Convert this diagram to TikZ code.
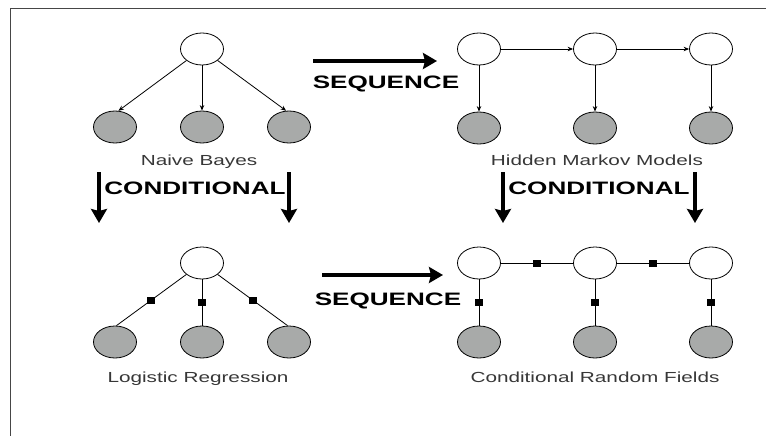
\documentclass[tikz,border=0pt]{standalone}
\usepackage{fontspec}
\setmainfont{Liberation Sans}
\usetikzlibrary{shapes.geometric,arrows.meta}
\definecolor{obsfill}{RGB}{168,170,169}
\definecolor{labelgray}{RGB}{55,55,55}
\definecolor{framegray}{RGB}{70,70,70}
\begin{document}
\begin{tikzpicture}[x=1pt,y=-1pt,
  hidden/.style={ellipse,draw,line width=0.8pt,fill=white,minimum width=43pt,minimum height=32pt,inner sep=0pt},
  observed/.style={hidden,fill=obsfill},
  edge/.style={line width=0.8pt,-{Stealth[length=5.5pt,width=4.5pt]}},
  link/.style={line width=0.8pt},
  factor/.style={rectangle,fill=black,minimum width=8pt,minimum height=7pt,inner sep=0pt},
  caption/.style={text=labelgray,font=\fontsize{14.6}{16}\selectfont,xscale=1.42,inner sep=0pt},
  bigword/.style={font=\fontsize{18}{20}\selectfont\bfseries,xscale=1.45,inner sep=0pt},
  bigarrow/.style={line width=3.5pt,-{Stealth[length=14pt,width=16pt,inset=2pt]}}
]
\useasboundingbox (0,0) rectangle (766,436);

% frame
\draw[framegray,line width=1pt] (766,9) -- (10,9) -- (10,436);

% ---- Naive Bayes ----
\node[hidden]   (nbr) at (202,49) {};
\node[observed] (nb1) at (115,127) {};
\node[observed] (nb2) at (202,127) {};
\node[observed] (nb3) at (289,127) {};
\draw[edge] (nbr) -- (nb1.78);
\draw[edge] (nbr) -- (nb2);
\draw[edge] (nbr) -- (nb3.100);
\node[caption] (nbl) at (199,162) {Naive Bayes};

% ---- Hidden Markov Models ----
\node[hidden]   (h1) at (479,49) {};
\node[hidden]   (h2) at (595,49) {};
\node[hidden]   (h3) at (711,49) {};
\node[observed] (o1) at (479,128) {};
\node[observed] (o2) at (595,128) {};
\node[observed] (o3) at (711,128) {};
\draw[edge] (h1) -- (h2);
\draw[edge] (h2) -- (h3);
\draw[edge] (h1) -- (o1);
\draw[edge] (h2) -- (o2);
\draw[edge] (h3) -- (o3);
\node[caption] (hml) at (597,160) {Hidden Markov Models};

% ---- Logistic Regression ----
\node[hidden]   (lr) at (202,263) {};
\node[observed] (l1) at (115,342) {};
\node[observed] (l2) at (202,342) {};
\node[observed] (l3) at (289,342) {};
\draw[link] (lr) -- node[factor] (lf1) {} (l1.85);
\draw[link] (lr) -- node[factor] (lf2) {} (l2);
\draw[link] (lr) -- node[factor] (lf3) {} (l3.95);
\node[caption] (lrl) at (198,379) {Logistic Regression};

% ---- Conditional Random Fields ----
\node[hidden]   (c1) at (479,263) {};
\node[hidden]   (c2) at (595,263) {};
\node[hidden]   (c3) at (711,263) {};
\node[observed] (d1) at (479,342) {};
\node[observed] (d2) at (595,342) {};
\node[observed] (d3) at (711,342) {};
\draw[link] (c1) -- node[factor] (cf12) {} (c2);
\draw[link] (c2) -- node[factor] (cf23) {} (c3);
\draw[link] (c1) -- node[factor] (cf1) {} (d1);
\draw[link] (c2) -- node[factor] (cf2) {} (d2);
\draw[link] (c3) -- node[factor] (cf3) {} (d3);
\node[caption] (crfl) at (595,377) {Conditional Random Fields};

% ---- transitions between the four models ----
\coordinate (sqa1) at (313,61);  \coordinate (sqb1) at (437,61);
\coordinate (sqa2) at (322,275); \coordinate (sqb2) at (443,275);
\draw[bigarrow] (sqa1) -- (sqb1);
\draw[bigarrow] (sqa2) -- (sqb2);
\node[bigword] (sqw1) at (386,84) {SEQUENCE};
\node[bigword] (sqw2) at (388,301) {SEQUENCE};

\coordinate (cda1) at (99,172);  \coordinate (cdb1) at (99,223);
\coordinate (cda2) at (289,172); \coordinate (cdb2) at (289,223);
\coordinate (cda3) at (503,172); \coordinate (cdb3) at (503,223);
\coordinate (cda4) at (695,172); \coordinate (cdb4) at (695,223);
\draw[bigarrow] (cda1) -- (cdb1);
\draw[bigarrow] (cda2) -- (cdb2);
\draw[bigarrow] (cda3) -- (cdb3);
\draw[bigarrow] (cda4) -- (cdb4);
\node[bigword] (cdw1) at (195,188) {CONDITIONAL};
\node[bigword] (cdw2) at (599,188) {CONDITIONAL};
\end{tikzpicture}
\end{document}
